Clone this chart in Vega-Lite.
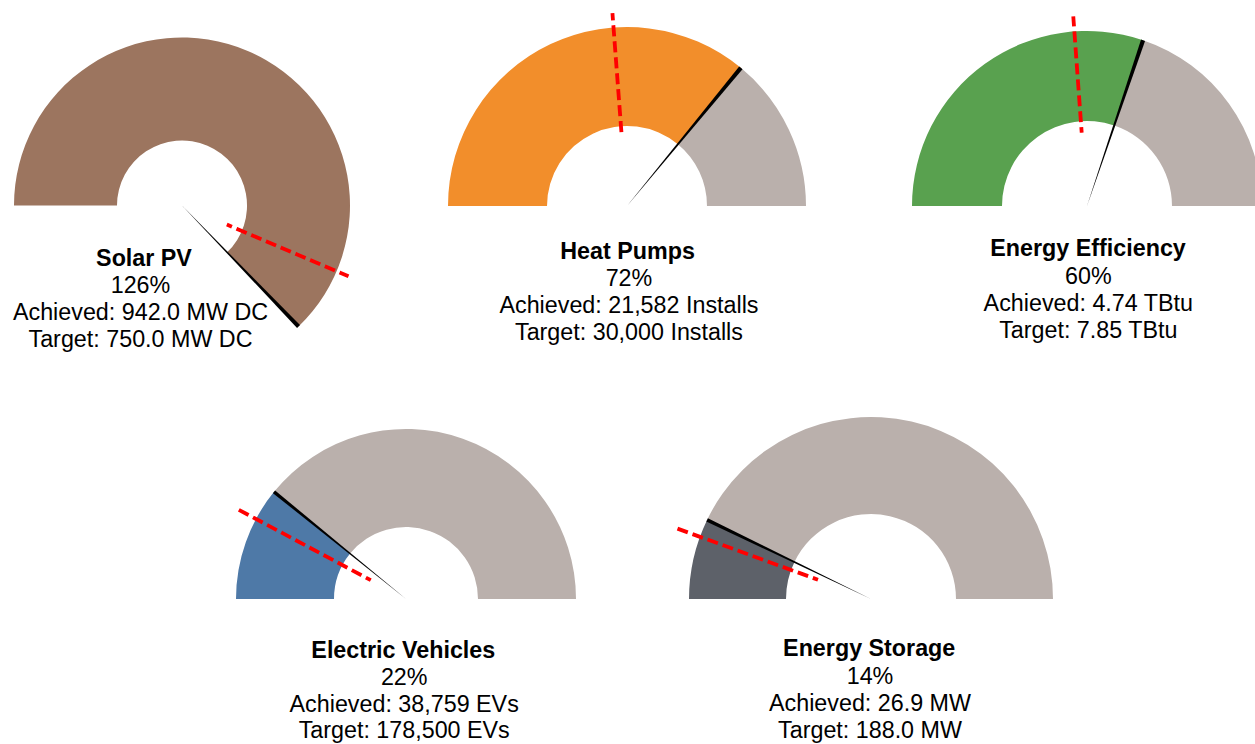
{
  "$schema": "https://vega.github.io/schema/vega-lite/v6.json",
  "padding": 0,
  "background": "white",
  "config": {"view": {"stroke": null}},
  "datasets": {
    "gauges": [
      {"gauge": "Solar PV", "achieved": 942.0, "target": 750.0, "pct": 125.6, "marker": 112.8, "detail": "126%\nAchieved: 942.0 MW DC\nTarget: 750.0 MW DC"},
      {"gauge": "Heat Pumps", "achieved": 21582, "target": 30000, "pct": 71.94, "marker": 47.6, "detail": "72%\nAchieved: 21,582 Installs\nTarget: 30,000 Installs"},
      {"gauge": "Energy Efficiency", "achieved": 4.74, "target": 7.85, "pct": 60.38, "marker": 47.7, "detail": "60%\nAchieved: 4.74 TBtu\nTarget: 7.85 TBtu"},
      {"gauge": "Electric Vehicles", "achieved": 38759, "target": 178500, "pct": 21.71, "marker": 15.6, "detail": "22%\nAchieved: 38,759 EVs\nTarget: 178,500 EVs"},
      {"gauge": "Energy Storage", "achieved": 26.9, "target": 188.0, "pct": 14.31, "marker": 11.1, "detail": "14%\nAchieved: 26.9 MW\nTarget: 188.0 MW"}
    ]
  },
  "vconcat": [
    {
      "hconcat": [
        {
          "width": 405, "height": 352,
          "data": {"name": "gauges"},
          "transform": [{"filter": {"field": "gauge", "equal": "Solar PV"}}],
          "layer": [
            {"mark": {"type": "arc", "color": "#9C755F"},
             "encoding": {
               "x": {"datum": 0, "type": "quantitative", "scale": {"domain": [-1.08333, 1.32738], "nice": false, "zero": false}, "axis": null},
               "y": {"datum": 0, "type": "quantitative", "scale": {"domain": [-0.87202, 1.22321], "nice": false, "zero": false}, "axis": null},
               "theta": {"field": "pct", "type": "quantitative", "stack": null, "scale": {"type": "linear", "domain": [0, 100], "range": [-1.5707963, 1.5707963]}},
               "theta2": {"datum": 0},
               "radius": {"datum": 1, "type": "quantitative", "scale": {"type": "linear", "domain": [0, 1], "range": [0, 168], "zero": true}},
               "radius2": {"datum": 0.387}
             }},
            {"mark": {"type": "arc", "color": "#000000", "thetaOffset": -0.012, "theta2Offset": 0.012},
             "encoding": {
               "x": {"datum": 0, "type": "quantitative"},
               "y": {"datum": 0, "type": "quantitative"},
               "theta": {"field": "pct", "type": "quantitative", "stack": null},
               "theta2": {"field": "pct"},
               "radius": {"datum": 1, "type": "quantitative"},
               "radius2": {"datum": 0}
             }},
            {"mark": {"type": "arc", "filled": false, "stroke": "#FF0000", "strokeWidth": 3.8, "strokeDash": [11, 5], "strokeDashOffset": 1.3},
             "encoding": {
               "x": {"datum": 0, "type": "quantitative"},
               "y": {"datum": 0, "type": "quantitative"},
               "theta": {"field": "marker", "type": "quantitative", "stack": null},
               "theta2": {"field": "marker"},
               "radius": {"datum": 1.077, "type": "quantitative"},
               "radius2": {"datum": 0.29}
             }},
            {"mark": {"type": "text", "font": "Liberation Sans", "fontSize": 23.3, "fontWeight": "bold", "align": "center", "baseline": "alphabetic", "color": "#000000"},
             "encoding": {
               "x": {"datum": -0.2262, "type": "quantitative"},
               "y": {"datum": -0.3601, "type": "quantitative"},
               "text": {"field": "gauge"}
             }},
            {"mark": {"type": "text", "font": "Liberation Sans", "fontSize": 23.3, "align": "center", "baseline": "alphabetic", "color": "#000000", "lineBreak": "\n", "lineHeight": 27},
             "encoding": {
               "x": {"datum": -0.247, "type": "quantitative"},
               "y": {"datum": -0.5208, "type": "quantitative"},
               "text": {"field": "detail"}
             }}
          ]
        },
        {
          "width": 445, "height": 352,
          "data": {"name": "gauges"},
          "transform": [{"filter": {"field": "gauge", "equal": "Heat Pumps"}}],
          "layer": [
            {"mark": {"type": "arc", "color": "#F28E2B"},
             "encoding": {
               "x": {"datum": 0, "type": "quantitative", "scale": {"domain": [-1.24022, 1.24581], "nice": false, "zero": false}, "axis": null},
               "y": {"datum": 0, "type": "quantitative", "scale": {"domain": [-0.81564, 1.15084], "nice": false, "zero": false}, "axis": null},
               "theta": {"field": "pct", "type": "quantitative", "stack": null, "scale": {"type": "linear", "domain": [0, 100], "range": [-1.5707963, 1.5707963]}},
               "theta2": {"datum": 0},
               "radius": {"datum": 1, "type": "quantitative", "scale": {"type": "linear", "domain": [0, 1], "range": [0, 179], "zero": true}},
               "radius2": {"datum": 0.4469}
             }},
            {"mark": {"type": "arc", "color": "#BAB0AC"},
             "encoding": {
               "x": {"datum": 0, "type": "quantitative"},
               "y": {"datum": 0, "type": "quantitative"},
               "theta": {"field": "pct", "type": "quantitative", "stack": null},
               "theta2": {"datum": 100},
               "radius": {"datum": 1, "type": "quantitative"},
               "radius2": {"datum": 0.4469}
             }},
            {"mark": {"type": "arc", "color": "#000000", "thetaOffset": -0.012, "theta2Offset": 0.012},
             "encoding": {
               "x": {"datum": 0, "type": "quantitative"},
               "y": {"datum": 0, "type": "quantitative"},
               "theta": {"field": "pct", "type": "quantitative", "stack": null},
               "theta2": {"field": "pct"},
               "radius": {"datum": 1, "type": "quantitative"},
               "radius2": {"datum": 0}
             }},
            {"mark": {"type": "arc", "filled": false, "stroke": "#FF0000", "strokeWidth": 3.8, "strokeDash": [11, 5], "strokeDashOffset": 3.8},
             "encoding": {
               "x": {"datum": 0, "type": "quantitative"},
               "y": {"datum": 0, "type": "quantitative"},
               "theta": {"field": "marker", "type": "quantitative", "stack": null},
               "theta2": {"field": "marker"},
               "radius": {"datum": 1.08, "type": "quantitative"},
               "radius2": {"datum": 0.4}
             }},
            {"mark": {"type": "text", "font": "Liberation Sans", "fontSize": 23.3, "fontWeight": "bold", "align": "center", "baseline": "alphabetic", "color": "#000000"},
             "encoding": {
               "x": {"datum": 0.003, "type": "quantitative"},
               "y": {"datum": -0.2933, "type": "quantitative"},
               "text": {"field": "gauge"}
             }},
            {"mark": {"type": "text", "font": "Liberation Sans", "fontSize": 23.3, "align": "center", "baseline": "alphabetic", "color": "#000000", "lineBreak": "\n", "lineHeight": 27},
             "encoding": {
               "x": {"datum": 0.011, "type": "quantitative"},
               "y": {"datum": -0.4497, "type": "quantitative"},
               "text": {"field": "detail"}
             }}
          ]
        },
        {
          "width": 405, "height": 352,
          "data": {"name": "gauges"},
          "transform": [{"filter": {"field": "gauge", "equal": "Energy Efficiency"}}],
          "layer": [
            {"mark": {"type": "arc", "color": "#59A14F"},
             "encoding": {
               "x": {"datum": 0, "type": "quantitative", "scale": {"domain": [-1.35429, 0.96], "nice": false, "zero": false}, "axis": null},
               "y": {"datum": 0, "type": "quantitative", "scale": {"domain": [-0.83429, 1.17714], "nice": false, "zero": false}, "axis": null},
               "theta": {"field": "pct", "type": "quantitative", "stack": null, "scale": {"type": "linear", "domain": [0, 100], "range": [-1.5707963, 1.5707963]}},
               "theta2": {"datum": 0},
               "radius": {"datum": 1, "type": "quantitative", "scale": {"type": "linear", "domain": [0, 1], "range": [0, 175], "zero": true}},
               "radius2": {"datum": 0.4857}
             }},
            {"mark": {"type": "arc", "color": "#BAB0AC", "clip": true},
             "encoding": {
               "x": {"datum": 0, "type": "quantitative"},
               "y": {"datum": 0, "type": "quantitative"},
               "theta": {"field": "pct", "type": "quantitative", "stack": null},
               "theta2": {"datum": 100},
               "radius": {"datum": 1, "type": "quantitative"},
               "radius2": {"datum": 0.4857}
             }},
            {"mark": {"type": "arc", "color": "#000000", "thetaOffset": -0.012, "theta2Offset": 0.012},
             "encoding": {
               "x": {"datum": 0, "type": "quantitative"},
               "y": {"datum": 0, "type": "quantitative"},
               "theta": {"field": "pct", "type": "quantitative", "stack": null},
               "theta2": {"field": "pct"},
               "radius": {"datum": 1, "type": "quantitative"},
               "radius2": {"datum": 0}
             }},
            {"mark": {"type": "arc", "filled": false, "stroke": "#FF0000", "strokeWidth": 3.8, "strokeDash": [11, 5], "strokeDashOffset": 0.95},
             "encoding": {
               "x": {"datum": 0, "type": "quantitative"},
               "y": {"datum": 0, "type": "quantitative"},
               "theta": {"field": "marker", "type": "quantitative", "stack": null},
               "theta2": {"field": "marker"},
               "radius": {"datum": 1.086, "type": "quantitative"},
               "radius2": {"datum": 0.42}
             }},
            {"mark": {"type": "text", "font": "Liberation Sans", "fontSize": 23.3, "fontWeight": "bold", "align": "center", "baseline": "alphabetic", "color": "#000000"},
             "encoding": {
               "x": {"datum": 0.006, "type": "quantitative"},
               "y": {"datum": -0.2857, "type": "quantitative"},
               "text": {"field": "gauge"}
             }},
            {"mark": {"type": "text", "font": "Liberation Sans", "fontSize": 23.3, "align": "center", "baseline": "alphabetic", "color": "#000000", "lineBreak": "\n", "lineHeight": 27},
             "encoding": {
               "x": {"datum": 0.0074, "type": "quantitative"},
               "y": {"datum": -0.4457, "type": "quantitative"},
               "text": {"field": "detail"}
             }}
          ]
        }
      ],
      "spacing": 0
    },
    {
      "hconcat": [
        {
          "width": 640, "height": 392,
          "data": {"name": "gauges"},
          "transform": [{"filter": {"field": "gauge", "equal": "Electric Vehicles"}}],
          "layer": [
            {"mark": {"type": "arc", "color": "#4E79A7"},
             "encoding": {
               "x": {"datum": 0, "type": "quantitative", "scale": {"domain": [-2.38824, 1.37647], "nice": false, "zero": false}, "axis": null},
               "y": {"datum": 0, "type": "quantitative", "scale": {"domain": [-0.85294, 1.45294], "nice": false, "zero": false}, "axis": null},
               "theta": {"field": "pct", "type": "quantitative", "stack": null, "scale": {"type": "linear", "domain": [0, 100], "range": [-1.5707963, 1.5707963]}},
               "theta2": {"datum": 0},
               "radius": {"datum": 1, "type": "quantitative", "scale": {"type": "linear", "domain": [0, 1], "range": [0, 170], "zero": true}},
               "radius2": {"datum": 0.4235}
             }},
            {"mark": {"type": "arc", "color": "#BAB0AC"},
             "encoding": {
               "x": {"datum": 0, "type": "quantitative"},
               "y": {"datum": 0, "type": "quantitative"},
               "theta": {"field": "pct", "type": "quantitative", "stack": null},
               "theta2": {"datum": 100},
               "radius": {"datum": 1, "type": "quantitative"},
               "radius2": {"datum": 0.4235}
             }},
            {"mark": {"type": "arc", "color": "#000000", "thetaOffset": -0.01, "theta2Offset": 0.01},
             "encoding": {
               "x": {"datum": 0, "type": "quantitative"},
               "y": {"datum": 0, "type": "quantitative"},
               "theta": {"field": "pct", "type": "quantitative", "stack": null},
               "theta2": {"field": "pct"},
               "radius": {"datum": 1, "type": "quantitative"},
               "radius2": {"datum": 0}
             }},
            {"mark": {"type": "arc", "filled": false, "stroke": "#FF0000", "strokeWidth": 3.8, "strokeDash": [11, 5], "strokeDashOffset": -0.1},
             "encoding": {
               "x": {"datum": 0, "type": "quantitative"},
               "y": {"datum": 0, "type": "quantitative"},
               "theta": {"field": "marker", "type": "quantitative", "stack": null},
               "theta2": {"field": "marker"},
               "radius": {"datum": 1.115, "type": "quantitative"},
               "radius2": {"datum": 0.235}
             }},
            {"mark": {"type": "text", "font": "Liberation Sans", "fontSize": 23.3, "fontWeight": "bold", "align": "center", "baseline": "alphabetic", "color": "#000000"},
             "encoding": {
               "x": {"datum": -0.0159, "type": "quantitative"},
               "y": {"datum": -0.3488, "type": "quantitative"},
               "text": {"field": "gauge"}
             }},
            {"mark": {"type": "text", "font": "Liberation Sans", "fontSize": 23.3, "align": "center", "baseline": "alphabetic", "color": "#000000", "lineBreak": "\n", "lineHeight": 26.5},
             "encoding": {
               "x": {"datum": -0.0106, "type": "quantitative"},
               "y": {"datum": -0.5059, "type": "quantitative"},
               "text": {"field": "detail"}
             }}
          ]
        },
        {
          "width": 460, "height": 392,
          "data": {"name": "gauges"},
          "transform": [{"filter": {"field": "gauge", "equal": "Energy Storage"}}],
          "layer": [
            {"mark": {"type": "arc", "color": "#5D6169"},
             "encoding": {
               "x": {"datum": 0, "type": "quantitative", "scale": {"domain": [-1.26923, 1.25824], "nice": false, "zero": false}, "axis": null},
               "y": {"datum": 0, "type": "quantitative", "scale": {"domain": [-0.7967, 1.35714], "nice": false, "zero": false}, "axis": null},
               "theta": {"field": "pct", "type": "quantitative", "stack": null, "scale": {"type": "linear", "domain": [0, 100], "range": [-1.5707963, 1.5707963]}},
               "theta2": {"datum": 0},
               "radius": {"datum": 1, "type": "quantitative", "scale": {"type": "linear", "domain": [0, 1], "range": [0, 182], "zero": true}},
               "radius2": {"datum": 0.467}
             }},
            {"mark": {"type": "arc", "color": "#BAB0AC"},
             "encoding": {
               "x": {"datum": 0, "type": "quantitative"},
               "y": {"datum": 0, "type": "quantitative"},
               "theta": {"field": "pct", "type": "quantitative", "stack": null},
               "theta2": {"datum": 100},
               "radius": {"datum": 1, "type": "quantitative"},
               "radius2": {"datum": 0.467}
             }},
            {"mark": {"type": "arc", "color": "#000000", "thetaOffset": -0.01, "theta2Offset": 0.01},
             "encoding": {
               "x": {"datum": 0, "type": "quantitative"},
               "y": {"datum": 0, "type": "quantitative"},
               "theta": {"field": "pct", "type": "quantitative", "stack": null},
               "theta2": {"field": "pct"},
               "radius": {"datum": 1, "type": "quantitative"},
               "radius2": {"datum": 0}
             }},
            {"mark": {"type": "arc", "filled": false, "stroke": "#FF0000", "strokeWidth": 3.8, "strokeDash": [11, 5], "strokeDashOffset": -1.56},
             "encoding": {
               "x": {"datum": 0, "type": "quantitative"},
               "y": {"datum": 0, "type": "quantitative"},
               "theta": {"field": "marker", "type": "quantitative", "stack": null},
               "theta2": {"field": "marker"},
               "radius": {"datum": 1.14, "type": "quantitative"},
               "radius2": {"datum": 0.31}
             }},
            {"mark": {"type": "text", "font": "Liberation Sans", "fontSize": 23.3, "fontWeight": "bold", "align": "center", "baseline": "alphabetic", "color": "#000000"},
             "encoding": {
               "x": {"datum": -0.0099, "type": "quantitative"},
               "y": {"datum": -0.3132, "type": "quantitative"},
               "text": {"field": "gauge"}
             }},
            {"mark": {"type": "text", "font": "Liberation Sans", "fontSize": 23.3, "align": "center", "baseline": "alphabetic", "color": "#000000", "lineBreak": "\n", "lineHeight": 27},
             "encoding": {
               "x": {"datum": -0.0055, "type": "quantitative"},
               "y": {"datum": -0.467, "type": "quantitative"},
               "text": {"field": "detail"}
             }}
          ]
        }
      ],
      "spacing": 0
    }
  ],
  "spacing": 0
}
